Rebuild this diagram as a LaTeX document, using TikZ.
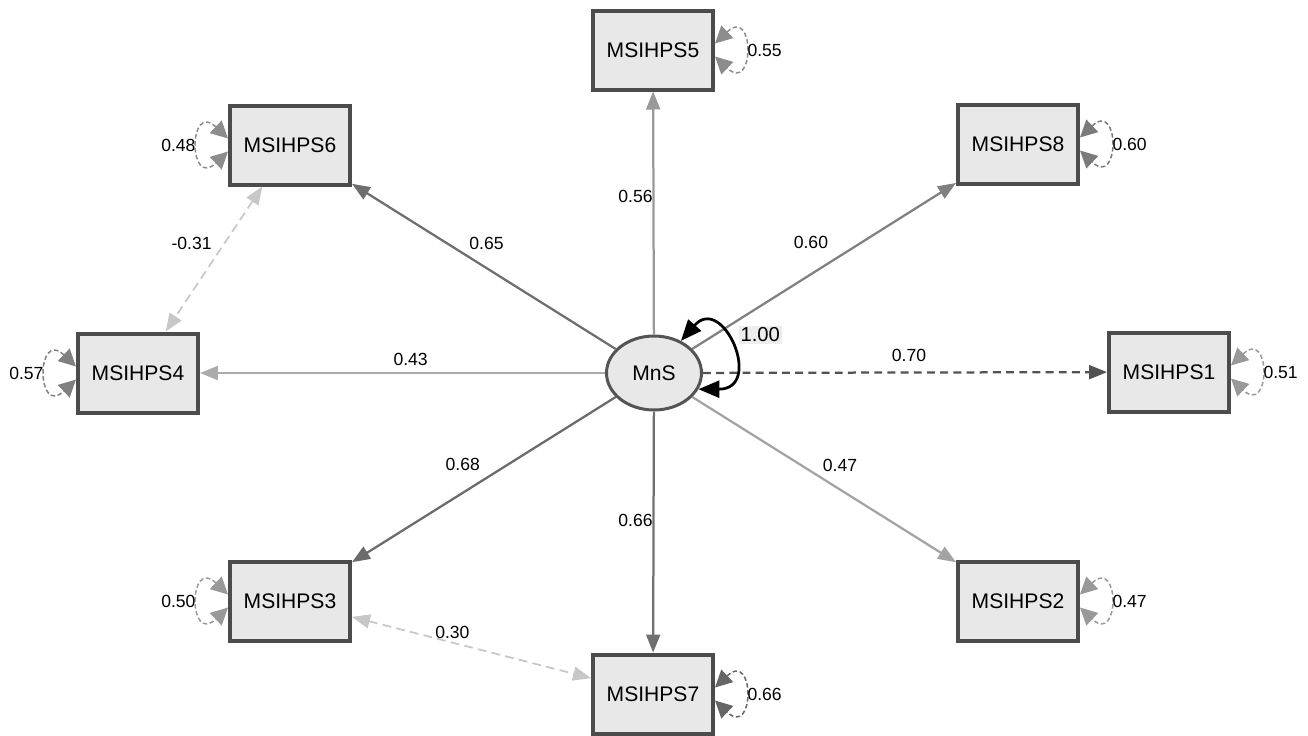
\documentclass[tikz,border=0pt]{standalone}
\usepackage{fontspec}
\setmainfont{Liberation Sans}
\usepackage{tikz}
\tikzset{obs node/.style={rectangle,draw=black!70,fill=black!9,line width=0.08cm,minimum width=2.40cm,minimum height=1.58cm,inner sep=0pt,font=\fontsize{12}{14}\selectfont},
lat node/.style={ellipse,draw=black!67,fill=black!9,line width=0.06cm,minimum width=1.9cm,minimum height=1.48cm,inner sep=0pt,font=\fontsize{12}{14}\selectfont},
load/.style={line width=0.045cm,-{Triangle[length=0.36cm,width=0.28cm]}},
cov/.style={draw=black!22,dash pattern=on 5pt off 3pt,line width=0.035cm,{Triangle[length=0.36cm,width=0.28cm]}-{Triangle[length=0.36cm,width=0.28cm]}},
resid/.style={dash pattern=on 2.5pt off 1.5pt,line width=0.03cm,{Triangle[length=0.34cm,width=0.34cm]}-{Triangle[length=0.34cm,width=0.34cm]}},
est/.style={font=\fontsize{10}{12}\selectfont,inner sep=1pt},
}
\usetikzlibrary{positioning,arrows.meta,shapes.geometric}

\begin{document}
\begin{tikzpicture}[x=0.02cm,y=-0.02cm]
			\useasboundingbox (0,0) rectangle (1308,735);
			
			%% factor and indicators
			\node[lat node] (mns) at (654,373) {MnS};
			\node[obs node] (5) at (653,50) {MSIHPS5};
			\node[obs node] (6) at (290,145) {MSIHPS6};
			\node[obs node] (8) at (1018,144) {MSIHPS8};
			\node[obs node] (4) at (138,373) {MSIHPS4};
			\node[obs node] (1) at (1169,372) {MSIHPS1};
			\node[obs node] (3) at (290,601) {MSIHPS3};
			\node[obs node] (2) at (1018,601) {MSIHPS2};
			\node[obs node] (7) at (653,694) {MSIHPS7};
			
			\path[draw]
			(mns) edge[load,draw=black!40] node[est,pos=.57,shift={(-18,0)}] {0.56} (5)
			(mns) edge[load,draw=black!57] node[est,pos=.49,shift={(0,-25)}] {0.65} (6)
			(mns) edge[load,draw=black!50] node[est,pos=.45,shift={(0,-32)}] {0.60} (8)
			(mns) edge[load,draw=black!33] node[est,pos=.48,shift={(0,-14)}] {0.43} (4)
			(mns) edge[load,draw=black!68,dash pattern=on 4.5pt off 3pt] node[est,pos=.51,shift={(0,-17)}] {0.70} (1)
			(mns) edge[load,draw=black!58] node[est,pos=.58,shift={(0,-28)}] {0.68} (3)
			(mns) edge[load,draw=black!36] node[est,pos=.56,shift={(0,-24)}] {0.47} (2)
			(mns) edge[load,draw=black!56] node[est,pos=.45,shift={(-18,0)}] {0.66} (7)
			%(6) edge (3)
			(6) edge[cov] node[est,pos=.39,shift={(-33,0)}] {-0.31} (4)
			(3) edge[cov] node[est,pos=.42,shift={(0,-10)}] {0.30} (7)
			;
			
			%% variance of MnS
			\draw[line width=0.055cm,{Triangle[length=0.42cm,width=0.34cm]}-{Triangle[length=0.42cm,width=0.34cm]}]
			(mns.50) .. controls +(42,-48) and +(66,0) .. (mns.340)
			node[midway,shift={(30,-12)},fill=black!7,inner sep=1pt,font=\fontsize{11.5}{13}\selectfont] {1.00};
			
			%% residuals
			\draw[resid,draw=black!45] (5.6) .. controls +(40,-38) and +(40,38) .. (5.354) node[est,midway,right] {0.55};
			\draw[resid,draw=black!52] (8.6) .. controls +(40,-38) and +(40,38) .. (8.354) node[est,midway,right] {0.60};
			\draw[resid,draw=black!40] (1.6) .. controls +(40,-38) and +(40,38) .. (1.354) node[est,midway,right] {0.51};
			\draw[resid,draw=black!40] (2.6) .. controls +(40,-38) and +(40,38) .. (2.354) node[est,midway,right] {0.47};
			\draw[resid,draw=black!60] (7.6) .. controls +(40,-38) and +(40,38) .. (7.354) node[est,midway,right] {0.66};
			\draw[resid,draw=black!45] (6.174) .. controls +(-40,-38) and +(-40,38) .. (6.186) node[est,midway,left] {0.48};
			\draw[resid,draw=black!50] (4.174) .. controls +(-40,-38) and +(-40,38) .. (4.186) node[est,midway,left] {0.57};
			\draw[resid,draw=black!40] (3.174) .. controls +(-40,-38) and +(-40,38) .. (3.186) node[est,midway,left] {0.50};
			\end{tikzpicture}
\end{document}
